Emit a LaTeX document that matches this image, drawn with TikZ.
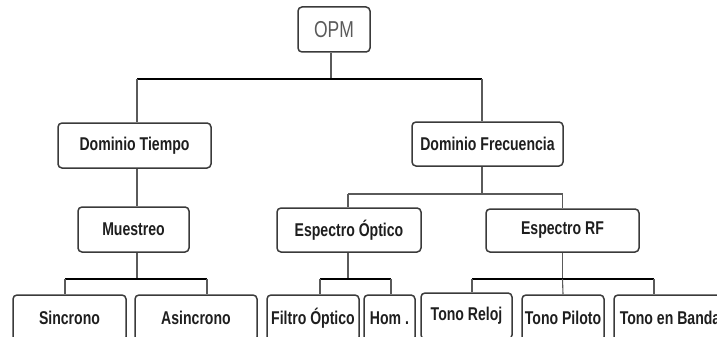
\documentclass[tikz,border=0pt]{standalone}
\usepackage{fontspec}
\setmainfont{Liberation Sans}[FakeStretch=0.76]
\usepackage{tikz}
\usetikzlibrary{positioning,calc}
\definecolor{boxline}{HTML}{3A3A3A}
\definecolor{linkgray}{HTML}{5A5A5A}
\definecolor{textdark}{HTML}{1E1E1E}

\begin{document}
\begin{tikzpicture}[
    x=1pt, y=-1pt,
    box/.style={draw=boxline, line width=1.5pt, rounded corners=4pt, inner sep=0pt,
        minimum height=45pt, text=textdark, font=\fontsize{18.5}{22}\selectfont\bfseries},
    root/.style={box, minimum width=72pt, text=linkgray, font=\fontsize{23}{27}\selectfont},
    link/.style={draw=linkgray, line width=1.1pt},
    bar/.style={draw=black, line width=1.8pt},
]
\useasboundingbox (0,0) rectangle (717,337);
\clip (0,0) rectangle (717,337);

% Root
\node[root] (opm) at (334,29.5) {OPM};

% First level
\node[box, minimum width=153pt] (tiempo) at (134.5,145.5) {Dominio Tiempo};
\node[box, minimum width=151pt, minimum height=44pt] (frec) at (487.5,144) {Dominio Frecuencia};

% Second level
\node[box, minimum width=111pt] (muestreo) at (133.5,229.5) {Muestreo};
\node[box, minimum width=144pt, minimum height=44pt] (optico) at (349,230) {Espectro Óptico};
\node[box, minimum width=153pt, minimum height=43pt] (rf) at (562.5,230.5) {Espectro RF};

% Third level
\node[box, minimum width=113pt, minimum height=46pt] (sinc) at (69.5,318) {Sincrono};
\node[box, minimum width=122pt, minimum height=46pt] (asinc) at (196,318) {Asincrono};
\node[box, minimum width=92pt, minimum height=46pt] (filtro) at (313,318) {Filtro Óptico};
\node[box, minimum width=51pt, minimum height=46pt] (hom) at (389.5,318) {Hom .};
\node[box, minimum width=91pt, minimum height=46pt] (reloj) at (466.5,316) {Tono Reloj};
\node[box, minimum width=82pt, minimum height=46pt] (piloto) at (563,318) {Tono Piloto};
\node[box, minimum width=112pt, minimum height=46pt] (banda) at (670,318) {Tono en Banda};

% Root to first level
\coordinate (j0) at ([xshift=-3pt]opm.south |- 0,79);
\draw[link] ([xshift=-3pt]opm.south) -- (j0);
\draw[bar] ([xshift=2.5pt]tiempo.north |- j0) -- ([xshift=-5.5pt]frec.north |- j0);
\draw[link] ([xshift=2.5pt]tiempo.north |- j0) -- ([xshift=2.5pt]tiempo.north);
\draw[link] ([xshift=-5.5pt]frec.north |- j0) -- ([xshift=-5.5pt]frec.north);

% Dominio Tiempo
\draw[link] ([xshift=2.5pt]tiempo.south) -- ([xshift=3.5pt]muestreo.north);

% Dominio Frecuencia
\coordinate (j1) at ([xshift=-5.5pt]frec.south |- 0,194);
\draw[link] ([xshift=-5.5pt]frec.south) -- (j1);
\draw[link, line width=1.6pt] ([xshift=-1pt]optico.north |- j1) -- (rf.north |- j1);
\draw[link] ([xshift=-1pt]optico.north |- j1) -- ([xshift=-1pt]optico.north);
\draw[link] (rf.north |- j1) -- (rf.north);

% Muestreo
\coordinate (j2) at ([xshift=3.5pt]muestreo.south |- 0,279);
\draw[link] ([xshift=3.5pt]muestreo.south) -- (j2);
\draw[bar] ([xshift=-4.5pt]sinc.north |- j2) -- ([xshift=11pt]asinc.north |- j2);
\draw[link] ([xshift=-4.5pt]sinc.north |- j2) -- ([xshift=-4.5pt]sinc.north);
\draw[link] ([xshift=11pt]asinc.north |- j2) -- ([xshift=11pt]asinc.north);

% Espectro Optico
\coordinate (j3) at ([xshift=-1pt]optico.south |- 0,279);
\draw[link] ([xshift=-1pt]optico.south) -- (j3);
\draw[bar] ([xshift=7pt]filtro.north |- j3) -- ([xshift=1.5pt]hom.north |- j3);
\draw[link] ([xshift=7pt]filtro.north |- j3) -- ([xshift=7pt]filtro.north);
\draw[link] ([xshift=1.5pt]hom.north |- j3) -- ([xshift=1.5pt]hom.north);

% Espectro RF
\coordinate (j4) at (rf.south |- 0,279);
\draw[link] (rf.south) -- (j4);
\draw[bar] ([xshift=5.5pt]reloj.north |- j4) -- ([xshift=-16pt]banda.north |- j4);
\draw[link] ([xshift=5.5pt]reloj.north |- j4) -- ([xshift=5.5pt]reloj.north);
\draw[link] (j4) -- (piloto.north);
\draw[link] ([xshift=-16pt]banda.north |- j4) -- ([xshift=-16pt]banda.north);
\end{tikzpicture}
\end{document}
